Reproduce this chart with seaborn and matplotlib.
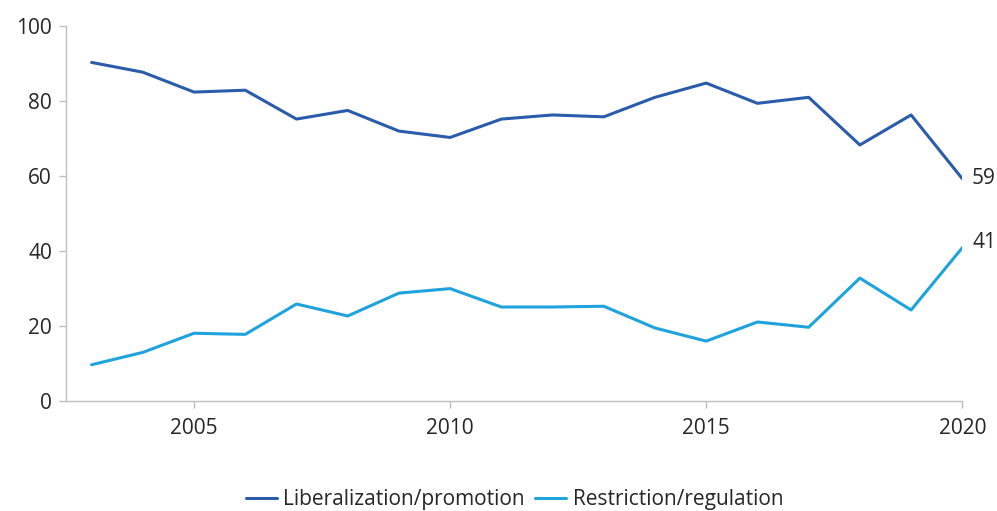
import pandas as pd
import matplotlib
matplotlib.use('Agg')
import matplotlib.pyplot as plt
import seaborn as sns

years = list(range(2003, 2021))
liberalization = [90.3, 87.7, 82.4, 82.9, 75.2, 77.5, 72.0, 70.3, 75.2, 76.3, 75.8, 81.0, 84.8, 79.4, 81.0, 68.3, 76.3, 59.3]
restriction = [9.7, 13.0, 18.1, 17.8, 25.9, 22.7, 28.8, 30.0, 25.1, 25.1, 25.3, 19.5, 16.0, 21.1, 19.7, 32.8, 24.3, 40.9]

df = pd.DataFrame({'Year': years,
                   'Liberalization/promotion': liberalization,
                   'Restriction/regulation': restriction})
long_df = df.melt(id_vars='Year', var_name='Type', value_name='Share')

sns.set_style('white')
plt.rcParams['font.family'] = ['Open Sans', 'DejaVu Sans']

fig = plt.figure(figsize=(9.97, 5.11), dpi=100)
ax = fig.add_axes([0.0662, 0.215, 0.899, 0.734])

palette = {'Liberalization/promotion': '#2a5cab', 'Restriction/regulation': '#1fa3dd'}
sns.lineplot(data=long_df, x='Year', y='Share', hue='Type', palette=palette,
             linewidth=2.2, ax=ax)

ax.set_xlim(2002.5, 2020)
ax.set_ylim(0, 100)
ax.set_xticks([2005, 2010, 2015, 2020])
ax.set_yticks([0, 20, 40, 60, 80, 100])
ax.set_xlabel('')
ax.set_ylabel('')
for s in ['top', 'right']:
    ax.spines[s].set_visible(False)
for s in ['left', 'bottom']:
    ax.spines[s].set_color('#bfbfbf')
    ax.spines[s].set_linewidth(1.0)
ax.tick_params(axis='both', bottom=True, left=True, colors='#bfbfbf', length=5, width=1.0,
               labelcolor='#262626', labelsize=15, direction='out')
ax.tick_params(axis='x', pad=7)
ax.tick_params(axis='y', pad=5)

# end labels
ax.annotate('59', xy=(2020, liberalization[-1]), xytext=(7, 0), textcoords='offset points',
            va='center', ha='left', fontsize=15, color='#262626')
ax.annotate('41', xy=(2020, restriction[-1]), xytext=(7, 4), textcoords='offset points',
            va='center', ha='left', fontsize=15, color='#262626')

handles, labels = ax.get_legend_handles_labels()
ax.get_legend().remove()
fig.legend(handles, labels, loc='lower center', bbox_to_anchor=(0.516, -0.035), ncol=2,
           frameon=False, fontsize=15, handlelength=1.5, handletextpad=0.3,
           columnspacing=0.5)

fig.savefig('out.png', dpi=100)
